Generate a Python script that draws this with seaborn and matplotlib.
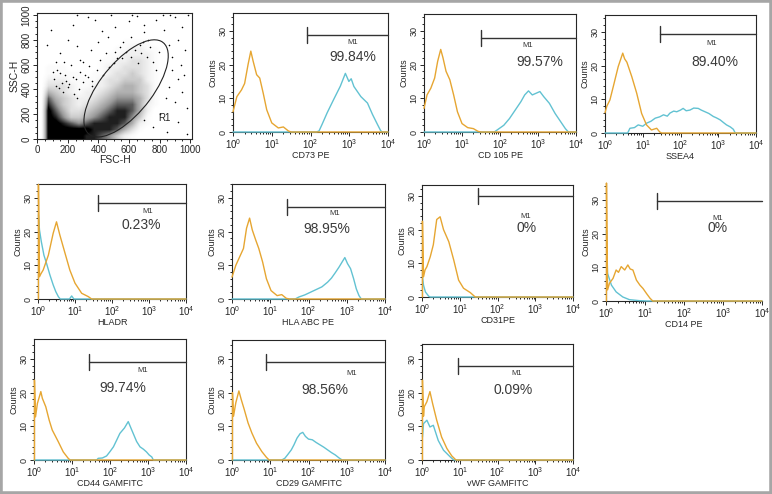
import numpy as np
import matplotlib
matplotlib.use("Agg")
import matplotlib.pyplot as plt
from matplotlib.patches import Ellipse, Rectangle
from matplotlib.colors import LinearSegmentedColormap, PowerNorm
from matplotlib.ticker import MultipleLocator, LogLocator, NullFormatter
import seaborn as sns

sns.set_style("ticks")
plt.rcParams["font.family"] = ["Liberation Sans", "DejaVu Sans"]

# === scatter FSC/SSC: density (rows = SSC 0-50, 50-100, ... ; cols = FSC 0-50 ...) ===
density_rows = [
    "09999988764210000000",
    "09999998887531000000",
    "09987678888752100000",
    "09864456788864100000",
    "09753345678875200000",
    "08643234567775210000",
    "07543223456665310000",
    "05432122345554310000",
    "03332112234554310000",
    "02221111233444210000",
    "01111101123343210000",
    "01110000122333210000",
    "00000000112233210000",
    "00000000011222210000",
    "00000000001122110000",
    "00000000000111100000",
    "00000000000000000000",
    "00000000000000000000",
    "00000000000000000000",
    "00000000000000000000",
]
sparse_fsc = [90, 200, 230, 150, 260, 120, 280, 60, 330, 380, 420, 460, 510, 350, 560,
              300, 450, 520, 600, 480, 400, 650, 700, 780, 830, 900, 950, 990, 860, 920,
              970, 880, 940, 700, 880, 920, 860, 950, 900, 980, 840, 960, 130, 180, 220,
              250, 160, 280, 200, 110, 700, 760, 850, 920, 980, 800, 260, 620, 820, 870,
              140, 170, 210, 240, 270, 190, 230, 120, 150, 260, 300, 330, 360, 390, 340,
              640, 680, 720, 660, 740, 690, 610, 580, 760, 780, 540, 500, 470, 430, 410,
              100, 175, 310, 355, 725, 795, 675, 615, 555, 505]
sparse_ssc = [880, 800, 920, 690, 750, 620, 640, 760, 980, 960, 870, 820, 900, 720, 780,
              620, 690, 650, 950, 1000, 780, 990, 920, 960, 880, 980, 900, 1000, 760, 800,
              720, 660, 600, 860, 560, 480, 420, 380, 300, 250, 330, 520, 560, 520, 600,
              480, 450, 540, 420, 480, 150, 100, 60, 140, 40, 200, 1000, 1000, 1000, 1000,
              410, 380, 440, 360, 400, 470, 500, 430, 530, 330, 460, 500, 430, 560, 590,
              720, 690, 660, 610, 740, 780, 660, 700, 620, 560, 740, 610, 580, 520, 640,
              540, 620, 520, 470, 800, 700, 760, 820, 650, 700]

# === histogramas: (log10 fluorescencia, counts) ===
cd73_iso = [(0.0, 6), (0.1, 10.5), (0.22, 12.5), (0.3, 14.4), (0.39, 20.1), (0.46, 24), (0.52, 21),
            (0.61, 17), (0.69, 16), (0.78, 11.5), (0.87, 6.6), (1.0, 2.7), (1.17, 1.2), (1.3, 1.5),
            (1.43, 0.3), (1.5, 0), (4.0, 0)]
cd73 = [(0.0, 0), (2.15, 0), (2.22, 0.3), (2.3, 2.3), (2.43, 5.7), (2.6, 9.7), (2.77, 13.6), (2.9, 17.4),
        (2.99, 15), (3.05, 15.8), (3.12, 13.5), (3.3, 10.5), (3.47, 8.6), (3.6, 5.2), (3.73, 2.2),
        (3.81, 0.4), (3.85, 0), (4.0, 0)]
cd105_iso = [(0.0, 7), (0.08, 11), (0.18, 13), (0.28, 16), (0.36, 21), (0.44, 24.5), (0.5, 22),
             (0.58, 18), (0.68, 15.5), (0.78, 11), (0.88, 6), (1.0, 2.5), (1.15, 1.3), (1.3, 1.0),
             (1.42, 0.2), (1.5, 0), (4.0, 0)]
cd105 = [(0.0, 0), (1.85, 0), (1.95, 0.8), (2.1, 2), (2.25, 4), (2.4, 6.5), (2.55, 9), (2.65, 11),
         (2.75, 12.2), (2.85, 11), (2.95, 11.5), (3.05, 12), (3.15, 10.5), (3.3, 8.5), (3.45, 5.5),
         (3.6, 3), (3.72, 1), (3.8, 0), (4.0, 0)]
ssea4_iso = [(0.0, 6), (0.05, 8), (0.13, 9.8), (0.22, 13.8), (0.35, 19.7), (0.47, 23.7), (0.52, 22),
             (0.58, 21), (0.71, 16.7), (0.84, 11.8), (0.97, 5.8), (1.1, 2.4), (1.23, 0.9), (1.37, 1.4),
             (1.45, 0.3), (1.5, 0), (4.0, 0)]
ssea4 = [(0.0, 0), (0.6, 0), (0.66, 1.4), (0.78, 1.6), (0.88, 2.4), (1.0, 2.0), (1.1, 2.9), (1.22, 3.5),
         (1.33, 4.4), (1.45, 4.8), (1.55, 5.4), (1.65, 5.0), (1.72, 5.9), (1.82, 6.5), (1.9, 6.3),
         (2.0, 6.8), (2.07, 7.3), (2.15, 6.6), (2.25, 6.8), (2.35, 7.4), (2.47, 7.3), (2.55, 6.8),
         (2.65, 6.3), (2.75, 5.8), (2.87, 4.9), (2.95, 4.5), (3.05, 3.9), (3.15, 3.0), (3.22, 2.4),
         (3.32, 1.8), (3.4, 1.1), (3.45, 0), (4.0, 0)]
hladr_iso = [(0.012, 0), (0.012, 34), (0.04, 6.6), (0.08, 7.5), (0.14, 8.6), (0.28, 13), (0.41, 19.5),
             (0.5, 22.9), (0.59, 19), (0.73, 13.6), (0.86, 8.6), (1.0, 4.7), (1.18, 1.7), (1.36, 0.7),
             (1.45, 0), (4.0, 0)]
hladr = [(0.012, 25), (0.04, 20.5), (0.09, 17), (0.16, 13), (0.23, 10.6), (0.32, 7.2), (0.41, 4.2),
         (0.48, 2.2), (0.55, 0.7), (0.6, 0), (0.85, 0), (0.91, 0.9), (0.97, 0), (4.0, 0)]
hla_iso = [(0.0, 6.5), (0.1, 10), (0.2, 12.5), (0.3, 15), (0.38, 21), (0.46, 24), (0.53, 20.5),
           (0.62, 17.5), (0.7, 15), (0.8, 11), (0.9, 6), (1.02, 2.5), (1.18, 1), (1.3, 1.3),
           (1.42, 0.2), (1.5, 0), (4.0, 0)]
hla = [(0.0, 0), (1.65, 0), (1.75, 0.6), (1.9, 1.2), (2.05, 2), (2.2, 2.8), (2.35, 3.6), (2.5, 5),
       (2.6, 6.2), (2.7, 7.8), (2.8, 9.5), (2.88, 11), (2.95, 12.3), (3.02, 10.5), (3.1, 9),
       (3.18, 6), (3.25, 3), (3.32, 1), (3.38, 0), (4.0, 0)]
cd31_iso = [(0.012, 0), (0.012, 22.5), (0.04, 6), (0.08, 8), (0.13, 9), (0.22, 12), (0.3, 15.5),
            (0.39, 23), (0.48, 23.8), (0.57, 20), (0.71, 16.4), (0.84, 11), (0.97, 5), (1.1, 2.6),
            (1.28, 1.3), (1.41, 0), (4.0, 0)]
cd31 = [(0.012, 6), (0.04, 3.5), (0.09, 1.5), (0.18, 0.2), (0.22, 0), (4.0, 0)]
cd14_iso = [(0.012, 0), (0.012, 35), (0.04, 3.3), (0.09, 5.3), (0.18, 6.7), (0.26, 9.2), (0.32, 8.5),
            (0.39, 10.2), (0.48, 9.2), (0.56, 10.7), (0.62, 9.5), (0.69, 9.2), (0.78, 6.2), (0.87, 4.7),
            (0.95, 3.7), (1.04, 2.2), (1.13, 0.8), (1.2, 0), (4.0, 0)]
cd14 = [(0.012, 21), (0.04, 8.2), (0.14, 4.7), (0.26, 2.7), (0.43, 1.2), (0.6, 0.4), (0.86, 0.1),
        (1.04, 0), (4.0, 0)]
cd44_iso = [(0.012, 0), (0.012, 23.7), (0.04, 12.8), (0.09, 16.8), (0.18, 20.3), (0.22, 18.3),
            (0.31, 15.8), (0.4, 11.8), (0.48, 8.9), (0.64, 5.4), (0.77, 2.4), (0.9, 0.5), (0.95, 0),
            (4.0, 0)]
cd44 = [(0.0, 0), (1.65, 0), (1.69, 0.5), (1.8, 0.6), (1.91, 1.2), (2.0, 2.5), (2.09, 3.9), (2.18, 6),
        (2.26, 7.9), (2.38, 9.5), (2.48, 11.4), (2.55, 9.5), (2.61, 7.9), (2.7, 5.5), (2.79, 3.9),
        (2.88, 3.2), (2.96, 2.4), (3.03, 1.5), (3.1, 0.9), (3.14, 0), (4.0, 0)]
cd29_iso = [(0.012, 0), (0.012, 20), (0.04, 13), (0.1, 17), (0.18, 20.5), (0.24, 18), (0.32, 15),
            (0.42, 11), (0.52, 8), (0.64, 5), (0.78, 2.5), (0.9, 0.8), (0.97, 0), (4.0, 0)]
cd29 = [(0.0, 0), (1.3, 0), (1.38, 0.5), (1.45, 1.5), (1.55, 3), (1.62, 4.5), (1.7, 6.5), (1.78, 7.8),
        (1.85, 8.2), (1.92, 7), (2.0, 6.2), (2.1, 6), (2.2, 5.2), (2.3, 4.5), (2.4, 3.8), (2.5, 3),
        (2.6, 2.2), (2.7, 1.5), (2.8, 0.6), (2.88, 0), (4.0, 0)]
vwf_iso = [(0.012, 0), (0.012, 23.7), (0.04, 13), (0.06, 15.8), (0.13, 17.3), (0.21, 20.3),
           (0.28, 16.8), (0.39, 11.8), (0.52, 6.8), (0.66, 3.4), (0.79, 1.2), (0.9, 0), (4.0, 0)]
vwf = [(0.012, 6.8), (0.04, 10.8), (0.13, 11.8), (0.21, 9.8), (0.3, 10.3), (0.43, 5.8), (0.57, 2.9),
       (0.75, 0.9), (0.84, 0), (4.0, 0)]

markers = ["CD73 PE", "CD 105 PE", "SSEA4", "HLADR", "HLA ABC PE", "CD31PE", "CD14 PE",
           "CD44 GAMFITC", "CD29 GAMFITC", "vWF GAMFITC"]
percents = ["99.84%", "99.57%", "89.40%", "0.23%", "98.95%", "0%", "0%", "99.74%", "98.56%", "0.09%"]
gate_start = [1.92, 1.51, 1.46, 1.62, 1.44, 1.48, 1.30, 1.45, 0.89, 0.95]   # log10
gate_level = [28.8, 28, 29.4, 28.5, 27.3, 30, 29.7, 29, 29, 27.9]

iso_curves = [cd73_iso, cd105_iso, ssea4_iso, hladr_iso, hla_iso, cd31_iso, cd14_iso, cd44_iso, cd29_iso, vwf_iso]
mark_curves = [cd73, cd105, ssea4, hladr, hla, cd31, cd14, cd44, cd29, vwf]

# === layout (pixeles) ===
W, H = 772, 494
ISO_C = "#E6A632"
MARK_C = "#62C2D2"
GATE_C = "#333333"
boxes = [(233, 13, 388, 132), (424, 14, 576, 132), (605, 15, 756, 133),
         (38, 184, 186, 299), (232, 184, 385, 299), (422, 185, 573, 297), (606, 183, 762, 301),
         (34, 339, 186, 460), (232, 340, 385, 460), (422, 344, 573, 460)]
m1_pos = [(3.09, 26.5), (2.74, 25.8), (2.83, 26.7), (2.97, 26), (2.69, 25.5), (2.75, 24),
          (2.86, 24.6), (2.87, 26.7), (3.14, 25.8), (2.52, 25.8)]
pct_pos = [(3.09, 22.3), (3.05, 20.8), (2.91, 21), (2.8, 22), (2.48, 20.8), (2.78, 20.5),
           (2.86, 21.6), (2.34, 21.4), (2.43, 20.8), (2.42, 20.8)]
PX_PER_COUNT = 3.37

fig = plt.figure(figsize=(W / 100, H / 100), dpi=100)
fig.patch.set_facecolor("white")


def px_axes(left, top, right, bottom):
    return fig.add_axes([left / W, 1 - bottom / H, (right - left) / W, (bottom - top) / H])


# --- dot plot FSC/SSC ---
ax = px_axes(37, 13, 192, 139)
grid = np.array([[int(c) for c in row] for row in density_rows], dtype=float)
dots_cmap = LinearSegmentedColormap.from_list("dots", ["#ffffff", "#9a9a9a", "#000000"])
ax.imshow(grid, extent=(0, 1000, 0, 1000), origin="lower", cmap=dots_cmap,
          norm=PowerNorm(gamma=1.8, vmin=0, vmax=8.5), interpolation="bilinear", aspect="auto")
sns.scatterplot(x=sparse_fsc, y=sparse_ssc, ax=ax, s=1.3, color="black", linewidth=0)
ax.add_patch(Ellipse((581, 408), 888, 362, angle=59, fill=False, lw=0.8, color="#222222"))
ax.text(830, 172, "R1", fontsize=7, ha="center", va="center")
ax.set_xlim(-3, 1013)
ax.set_ylim(0, 1016)
ax.set_xticks(range(0, 1001, 200))
ax.set_yticks(range(0, 1001, 200))
ax.xaxis.set_minor_locator(MultipleLocator(50))
ax.yaxis.set_minor_locator(MultipleLocator(50))
ax.tick_params(which="both", direction="out", labelsize=7, pad=1, width=0.7)
ax.tick_params(which="major", length=3)
ax.tick_params(which="minor", length=1.5)
ax.tick_params(axis="y", labelrotation=90)
for t in ax.get_yticklabels():
    t.set_va("center")
ax.set_xlabel("FSC-H", fontsize=7.5, labelpad=0)
ax.set_ylabel("SSC-H", fontsize=7.5, labelpad=1)
for s in ax.spines.values():
    s.set_linewidth(0.8)

# --- histogramas ---
for i, box in enumerate(boxes):
    ax = px_axes(*box)
    for curve, col in ((mark_curves[i], MARK_C), (iso_curves[i], ISO_C)):
        lx, cnt = zip(*curve)
        sns.lineplot(x=10 ** np.array(lx), y=np.array(cnt), ax=ax, color=col, lw=1.0,
                     sort=False, estimator=None)
    for ln in ax.lines:
        ln.set_clip_on(False)
        ln.set_zorder(4)
    for s in ax.spines.values():
        s.set_linewidth(0.8)
        s.set_zorder(1)
    ax.set_xscale("log")
    ax.set_xlim(1, 1e4)
    ax.set_ylim(0, (box[3] - box[1]) / PX_PER_COUNT)

    # marcador M1
    g = 10 ** gate_start[i]
    ax.plot([g, 1e4], [gate_level[i]] * 2, color=GATE_C, lw=1, clip_on=False)
    ax.plot([g, g], [gate_level[i] - 2.4, gate_level[i] + 2.4], color=GATE_C, lw=1)
    ax.text(10 ** m1_pos[i][0], m1_pos[i][1], "M1", fontsize=5.5, ha="center", va="center",
            color=GATE_C)
    ax.text(10 ** pct_pos[i][0], pct_pos[i][1], percents[i], fontsize=10, ha="center",
            va="center", color="#3a3a3a")

    ax.xaxis.set_major_locator(LogLocator(base=10, numticks=6))
    ax.xaxis.set_minor_locator(LogLocator(base=10, subs=np.arange(2, 10), numticks=12))
    ax.xaxis.set_minor_formatter(NullFormatter())
    ax.set_yticks([0, 10, 20, 30])
    ax.yaxis.set_minor_locator(MultipleLocator(2))
    ax.tick_params(which="both", direction="out", labelsize=7, pad=1, width=0.7)
    ax.tick_params(which="major", length=3)
    ax.tick_params(which="minor", length=1.5)
    ax.tick_params(axis="y", labelrotation=90, labelsize=6.5)
    for t in ax.get_yticklabels():
        t.set_va("center")
    ax.set_xlabel(markers[i], fontsize=6.5, labelpad=0)
    ax.set_ylabel("Counts", fontsize=6.5, labelpad=1)
    if markers[i] == "CD14 PE":
        ax.spines["top"].set_visible(False)
        ax.spines["right"].set_visible(False)

# marco gris exterior
fig.patches.append(Rectangle((0, 0), 1, 1, transform=fig.transFigure, fill=False,
                             edgecolor="#a6a6a6", lw=4))

fig.savefig("out.png", dpi=100)
